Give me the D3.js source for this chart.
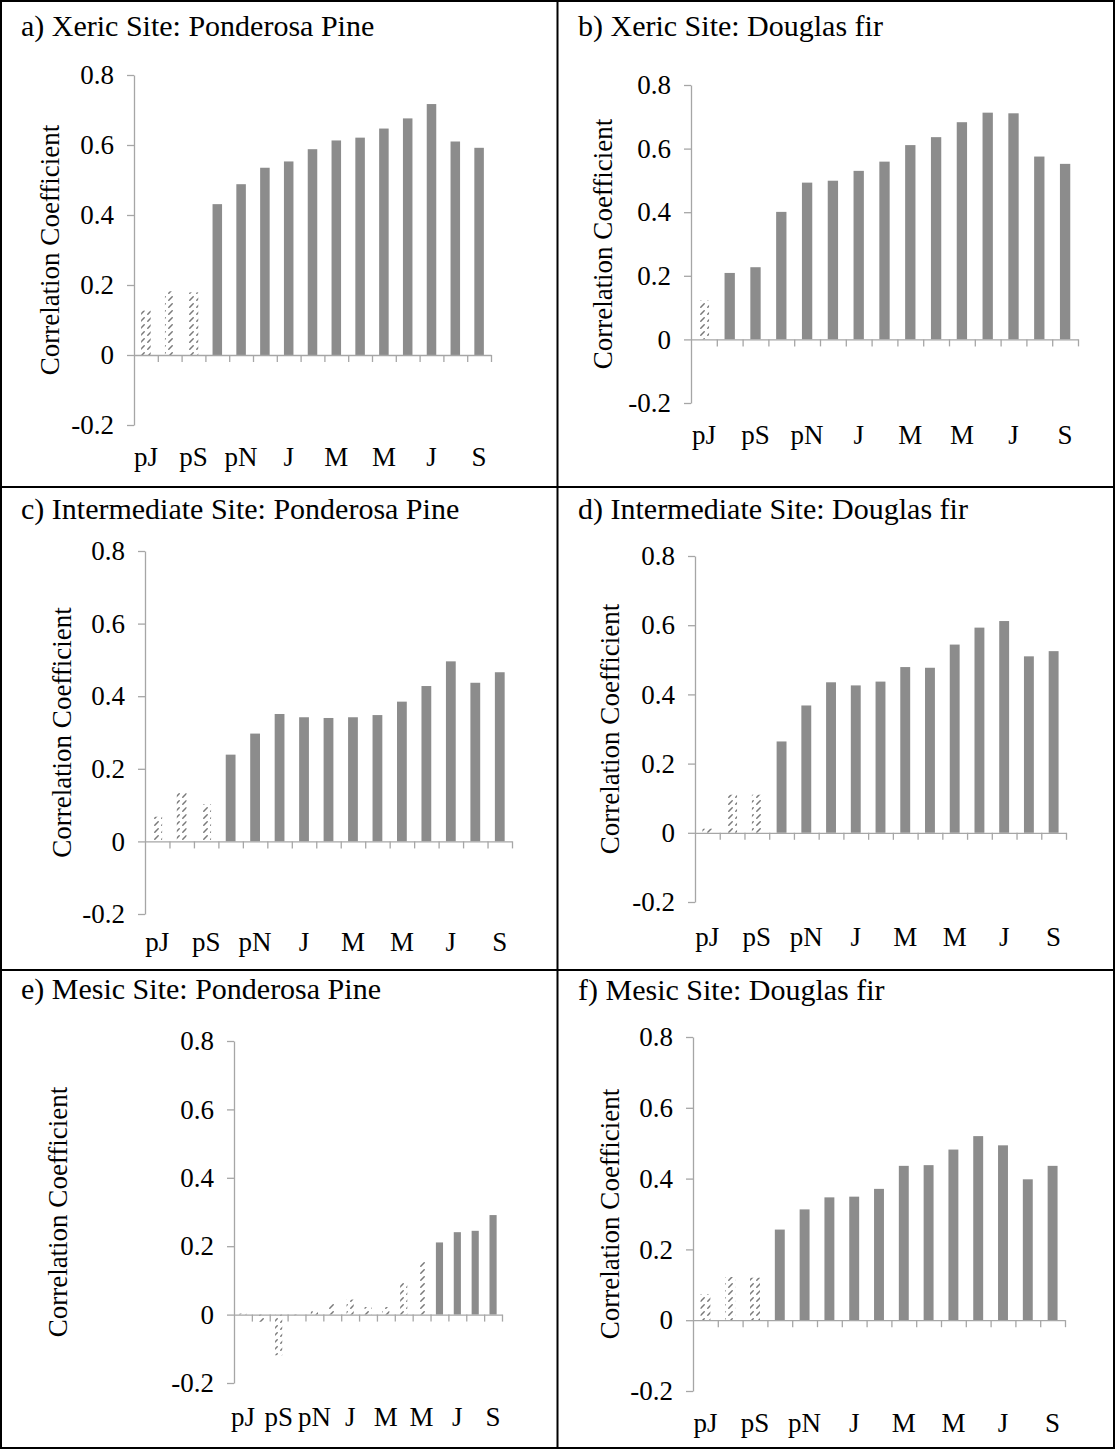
<!DOCTYPE html>
<html lang="en">
<head>
<meta charset="UTF-8">
<title>Correlation coefficients by site and species</title>
<script src="https://d3js.org/d3.v7.min.js"></script>
<style>
    body { margin: 0; padding: 0; background: #fff; }
    svg text { font-family: "Liberation Serif", "Times New Roman", Times, serif; fill: #000; }
</style>
</head>
<body>
<svg id="vis" width="1115" height="1449"></svg>
<script>
    // months from previous July to current September
    const months = ["pJ", "pA", "pS", "pO", "pN", "pD", "J", "F", "M", "A", "M", "J", "J", "A", "S"];
    const yTicks = [-0.2, 0, 0.2, 0.4, 0.6, 0.8];

    const titles = [
        "a) Xeric Site: Ponderosa Pine",
        "b) Xeric Site: Douglas fir",
        "c) Intermediate Site: Ponderosa Pine",
        "d) Intermediate Site: Douglas fir",
        "e) Mesic Site: Ponderosa Pine",
        "f) Mesic Site: Douglas fir"
    ];

    const xericPine = [0.127, 0.182, 0.179, 0.431, 0.488, 0.535, 0.553, 0.588, 0.613, 0.621, 0.647, 0.676, 0.717, 0.610, 0.592];
    const xericFir = [0.122, 0.209, 0.227, 0.401, 0.493, 0.499, 0.530, 0.559, 0.611, 0.636, 0.683, 0.713, 0.711, 0.575, 0.552];
    const interPine = [0.068, 0.137, 0.102, 0.239, 0.297, 0.351, 0.342, 0.340, 0.342, 0.348, 0.385, 0.428, 0.496, 0.437, 0.466];
    const interFir = [0.012, 0.110, 0.110, 0.264, 0.368, 0.435, 0.426, 0.437, 0.479, 0.477, 0.544, 0.593, 0.612, 0.510, 0.525];
    const mesicPine = [0.003, -0.021, -0.119, -0.002, 0.010, 0.036, 0.044, 0.022, 0.022, 0.093, 0.158, 0.211, 0.241, 0.245, 0.291];
    const mesicFir = [0.073, 0.122, 0.120, 0.256, 0.313, 0.347, 0.349, 0.371, 0.436, 0.438, 0.482, 0.520, 0.494, 0.398, 0.436];

    // 1 = not significant (hatched bar)
    const xericPineNS = [1, 1, 1, 0, 0, 0, 0, 0, 0, 0, 0, 0, 0, 0, 0];
    const xericFirNS = [1, 0, 0, 0, 0, 0, 0, 0, 0, 0, 0, 0, 0, 0, 0];
    const interPineNS = [1, 1, 1, 0, 0, 0, 0, 0, 0, 0, 0, 0, 0, 0, 0];
    const interFirNS = [1, 1, 1, 0, 0, 0, 0, 0, 0, 0, 0, 0, 0, 0, 0];
    const mesicPineNS = [1, 1, 1, 1, 1, 1, 1, 1, 1, 1, 1, 0, 0, 0, 0];
    const mesicFirNS = [1, 1, 1, 0, 0, 0, 0, 0, 0, 0, 0, 0, 0, 0, 0];

    const series = [xericPine, xericFir, interPine, interFir, mesicPine, mesicFir];
    const nsFlags = [xericPineNS, xericFirNS, interPineNS, interFirNS, mesicPineNS, mesicFirNS];

    // where each little chart sits on the page
    const layout = [
        { tx: 21, ty: 36, ax: 134, top: 75, bottom: 425, right: 491, lab: 466, ylab: 50 },
        { tx: 578, ty: 36, ax: 691, top: 85, bottom: 403, right: 1078, lab: 444, ylab: 603 },
        { tx: 21, ty: 519, ax: 145, top: 551, bottom: 914, right: 512, lab: 951, ylab: 62 },
        { tx: 578, ty: 519, ax: 695, top: 556, bottom: 902, right: 1066, lab: 946, ylab: 610 },
        { tx: 21, ty: 999, ax: 234, top: 1041, bottom: 1383, right: 502, lab: 1426, ylab: 58 },
        { tx: 578, ty: 1000, ax: 693, top: 1037, bottom: 1391, right: 1065, lab: 1432, ylab: 610 }
    ];

    const TITLE_FS = 30;
    const FS = 27;
    const AXIS = "#a6a6a6";
    const BAR = "#8c8c8c";

    const svg = d3.select("#vis");

    const defs = svg.append("defs");
    const pat = defs.append("pattern")
        .attr("id", "hatch")
        .attr("patternUnits", "userSpaceOnUse")
        .attr("width", 7)
        .attr("height", 7);
    pat.append("path")
        .attr("d", "M0.8,6.2 L4.2,2.8")
        .attr("stroke", "#7a7a7a")
        .attr("stroke-width", 1.5)
        .attr("stroke-linecap", "round")
        .attr("fill", "none");

    function drawPanel(i) {
        const L = layout[i];
        const values = series[i];
        const ns = nsFlags[i];
        const g = svg.append("g");

        const y = d3.scaleLinear().domain([-0.2, 0.8]).range([L.bottom, L.top]);
        const x = d3.scaleBand().domain(d3.range(months.length))
            .range([L.ax, L.right]).paddingInner(0.6).paddingOuter(0.3);
        const xb = d3.scaleLinear().domain([0, months.length]).range([L.ax, L.right]);

        g.append("text")
            .attr("x", L.tx).attr("y", L.ty)
            .style("font-size", TITLE_FS + "px")
            .text(titles[i]);

        g.selectAll("rect.bar")
            .data(values)
            .join("rect")
            .attr("class", "bar")
            .attr("x", (d, k) => x(k))
            .attr("width", x.bandwidth())
            .attr("y", d => y(Math.max(0, d)))
            .attr("height", d => Math.abs(y(d) - y(0)))
            .attr("fill", (d, k) => ns[k] ? "url(#hatch)" : BAR);

        // y axis
        const ya = g.append("g")
            .attr("transform", `translate(${L.ax},0)`)
            .call(d3.axisLeft(y).tickValues(yTicks).tickSize(7).tickSizeOuter(0)
                .tickPadding(13)
                .tickFormat(d => d === 0 ? "0" : d3.format(".1f")(d).replace("−", "-")));

        // x axis along zero with ticks between months
        const xa = g.append("g")
            .attr("transform", `translate(0,${y(0)})`)
            .call(d3.axisBottom(xb).tickValues(d3.range(1, months.length + 1))
                .tickSize(7).tickSizeOuter(0).tickFormat(""));

        [ya, xa].forEach(a => {
            a.select(".domain").attr("stroke", AXIS).attr("stroke-width", 1.3);
            a.selectAll(".tick line").attr("stroke", AXIS).attr("stroke-width", 1.3);
            a.selectAll(".tick text")
                .style("font-family", "'Liberation Serif', 'Times New Roman', serif")
                .style("font-size", FS + "px")
                .attr("fill", "#000");
        });

        g.selectAll("text.mlab")
            .data(months.map((m, k) => ({ m, k })).filter(d => d.k % 2 === 0))
            .join("text")
            .attr("class", "mlab")
            .attr("x", d => x(d.k) + x.bandwidth() / 2)
            .attr("y", L.lab)
            .attr("text-anchor", "middle")
            .style("font-size", FS + "px")
            .text(d => d.m);

        const cy = (L.top + L.bottom) / 2;
        g.append("text")
            .attr("transform", `translate(${L.ylab},${cy}) rotate(-90)`)
            .attr("text-anchor", "middle")
            .attr("dominant-baseline", "central")
            .style("font-size", FS + "px")
            .text("Correlation Coefficient");
    }

    d3.range(6).forEach(drawPanel);

    // table borders
    const grid = svg.append("g").attr("stroke", "#000").attr("stroke-width", 2);
    [1, 557.5, 1114].forEach(v => grid.append("line").attr("x1", v).attr("x2", v).attr("y1", 0).attr("y2", 1449));
    [1, 487, 970, 1448].forEach(h => grid.append("line").attr("x1", 0).attr("x2", 1115).attr("y1", h).attr("y2", h));
</script>
</body>
</html>
